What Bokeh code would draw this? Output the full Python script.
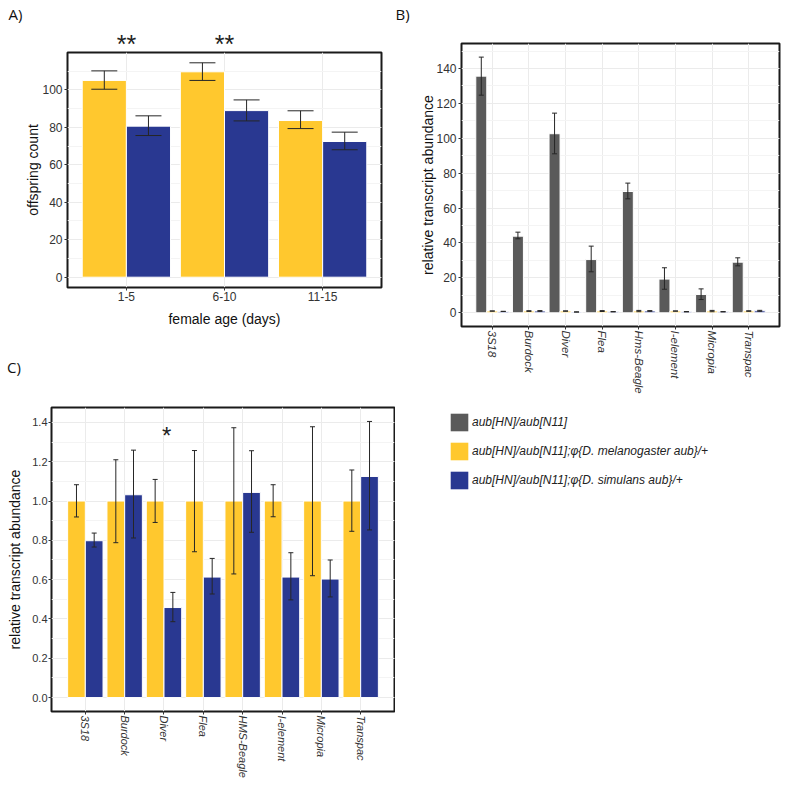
import numpy as np
from bokeh.plotting import figure
from bokeh.models import (Range1d, FixedTicker, SingleIntervalTicker, Whisker, TeeHead,
                          ColumnDataSource, Label, Legend, LegendItem, PrintfTickFormatter)
from bokeh.layouts import row, column
from bokeh.embed import file_html
from bokeh.resources import INLINE

FONT = "Liberation Sans"
LETTER_FONT = "Open Sans"
GREY = "#5a5a5a"
YELLOW = "#ffc82e"
BLUE = "#293891"
GRID = "#ebebeb"
MINOR = "#f4f4f4"
ERR = "#262626"

# ---------------- Panel A data ----------------
ages = ["1-5", "6-10", "11-15"]
a_mel = [105.0, 109.6, 83.6]
a_mel_lo = [100.3, 105.0, 79.3]
a_mel_hi = [110.1, 114.4, 88.8]
a_sim = [80.6, 88.9, 72.4]
a_sim_lo = [75.6, 83.4, 68.0]
a_sim_hi = [86.1, 94.6, 77.4]
a_sig = ["**", "**", ""]

# ---------------- Panel B data ----------------
b_te = ["3S18", "Burdock", "Diver", "Flea", "Hms-Beagle", "I-element", "Micropia", "Transpac"]
b_mut = [135.6, 43.9, 102.6, 30.5, 69.5, 19.3, 10.5, 29.0]
b_mut_lo = [124.7, 42.4, 91.1, 23.5, 65.3, 13.5, 7.6, 26.9]
b_mut_hi = [146.5, 46.2, 114.4, 38.2, 74.3, 25.8, 13.7, 31.5]
b_mel = [1.0, 1.0, 1.0, 1.0, 1.0, 1.0, 1.0, 1.0]
b_mel_lo = [0.92, 0.79, 0.89, 0.74, 0.63, 0.92, 0.62, 0.85]
b_mel_hi = [1.08, 1.21, 1.11, 1.26, 1.37, 1.08, 1.38, 1.16]
b_sim = [0.80, 1.03, 0.46, 0.61, 1.04, 0.61, 0.60, 1.13]
b_sim_lo = [0.77, 0.81, 0.39, 0.53, 0.84, 0.50, 0.51, 0.85]
b_sim_hi = [0.84, 1.26, 0.54, 0.71, 1.26, 0.74, 0.70, 1.41]

# ---------------- Panel C data ----------------
c_te = ["3S18", "Burdock", "Diver", "Flea", "HMS-Beagle", "I-element", "Micropia", "Transpac"]
c_mel = [1.0, 1.0, 1.0, 1.0, 1.0, 1.0, 1.0, 1.0]
c_mel_lo = [0.919, 0.788, 0.891, 0.742, 0.629, 0.920, 0.620, 0.846]
c_mel_hi = [1.083, 1.210, 1.110, 1.257, 1.373, 1.083, 1.378, 1.158]
c_sim = [0.798, 1.032, 0.458, 0.613, 1.044, 0.613, 0.603, 1.125]
c_sim_lo = [0.766, 0.812, 0.386, 0.527, 0.841, 0.497, 0.512, 0.853]
c_sim_hi = [0.837, 1.259, 0.535, 0.708, 1.256, 0.737, 0.700, 1.405]
c_sig = ["", "", "*", "", "", "", "", ""]

legend_labels = ["aub[HN]/aub[N11]",
                 "aub[HN]/aub[N11];\u03c6{D. melanogaster aub}/+",
                 "aub[HN]/aub[N11];\u03c6{D. simulans aub}/+"]

GEOM = {}


def make_fig(key, xr, yr, fw, fh, left, right, top, bottom, **kw):
    p = figure(frame_width=fw, frame_height=fh,
               min_border_left=left, min_border_right=right,
               min_border_top=top, min_border_bottom=bottom,
               x_range=Range1d(*xr), y_range=Range1d(*yr),
               frame_align=False,
               output_backend="svg", toolbar_location=None, **kw)
    p.outline_line_color = "#1a1a1a"
    p.outline_line_width = 2
    p.background_fill_color = "white"
    p.border_fill_color = "white"
    GEOM[key] = (left, fw, xr)
    return p


def header(key, width, height):
    """Blank strip above a panel whose x scale matches the panel's x scale."""
    fl, fw, xr = GEOM[key]
    k = (xr[1] - xr[0]) / fw
    h = figure(frame_width=width, frame_height=height, min_border=0,
               x_range=Range1d(xr[0] - fl * k, xr[0] + (width - fl) * k),
               y_range=Range1d(0, height), frame_align=False,
               x_axis_location=None, y_axis_location=None,
               output_backend="svg", toolbar_location=None)
    h.grid.visible = False
    h.outline_line_color = None
    h.border_fill_color = "white"
    h.background_fill_color = "white"
    return h


def px_x(key, px):
    fl, fw, xr = GEOM[key]
    return xr[0] + (px - fl) * (xr[1] - xr[0]) / fw


def style(p, cats, yinterval, ytick_size, xtick_size, x_italic, x_vertical,
          ylabel, xlabel, ylab_standoff, xlab_standoff, yfmt=None):
    xt = FixedTicker(ticks=list(range(1, len(cats) + 1)))
    yt = SingleIntervalTicker(interval=yinterval, num_minor_ticks=2)
    p.xaxis.ticker = xt
    p.yaxis.ticker = yt
    p.xgrid.ticker = xt
    p.ygrid.ticker = yt
    p.xaxis.major_label_overrides = {i + 1: c for i, c in enumerate(cats)}
    if yfmt:
        p.yaxis.formatter = PrintfTickFormatter(format=yfmt)
    for ax in (p.xaxis[0], p.yaxis[0]):
        ax.axis_line_color = None
        ax.major_tick_line_color = "#333333"
        ax.major_tick_out = 3
        ax.major_tick_in = 0
        ax.minor_tick_line_color = None
        ax.major_label_text_font = FONT
        ax.major_label_text_color = "#333333"
        ax.major_label_standoff = 1
        ax.axis_label_text_font = FONT
        ax.axis_label_text_font_style = "normal"
        ax.axis_label_text_font_size = "14px"
        ax.axis_label_text_color = "#111111"
    p.yaxis.major_label_text_font_size = ytick_size
    p.xaxis.major_label_text_font_size = xtick_size
    if x_italic:
        p.xaxis.major_label_text_font_style = "italic"
    if x_vertical:
        p.xaxis.major_label_orientation = "vertical"
    p.yaxis.axis_label = ylabel
    p.yaxis.axis_label_standoff = ylab_standoff
    if xlabel:
        p.xaxis.axis_label = xlabel
        p.xaxis.axis_label_standoff = xlab_standoff
    p.xgrid.grid_line_color = GRID
    p.ygrid.grid_line_color = GRID
    p.ygrid.minor_grid_line_color = MINOR


def add_bars(p, x, top, width, color):
    src = ColumnDataSource(dict(x=x, top=top))
    return p.vbar(x="x", top="top", bottom=0, width=width, source=src,
                  fill_color=color, line_color="white", line_width=1)


def add_err(p, x, lo, hi, cap):
    src = ColumnDataSource(dict(x=x, lo=lo, hi=hi))
    w = Whisker(base="x", lower="lo", upper="hi", source=src, dimension="height",
                line_color=ERR, line_width=1, level="annotation",
                upper_head=TeeHead(size=cap, line_color=ERR, line_width=1),
                lower_head=TeeHead(size=cap, line_color=ERR, line_width=1))
    p.add_layout(w)


def letter(h, key, text, px, baseline_py, height):
    h.add_layout(Label(x=px_x(key, px), y=height - baseline_py, text=text,
                       text_font=LETTER_FONT, text_font_size="15px", text_align="left",
                       text_baseline="alphabetic", text_color="#111111"))


# ================= Panel A =================
OVER = 12   # the strip above panel A is taller; panel A overlaps its empty lower part
pa = make_fig("a", (0.4, 3.6), (-5.5, 119.9), 314, 235, 67, 14, 2, 53,
              margin=(-OVER, 0, 0, 0))
xa = np.arange(1, len(ages) + 1)
add_bars(pa, xa - 0.225, a_mel, 0.45, YELLOW)
add_bars(pa, xa + 0.225, a_sim, 0.45, BLUE)
add_err(pa, xa - 0.225, a_mel_lo, a_mel_hi, 26)
add_err(pa, xa + 0.225, a_sim_lo, a_sim_hi, 26)
style(pa, ages, 20, "12px", "12px", False, False, "offspring count", "female age (days)", -2, 7)

HA = 50 + OVER
ha = header("a", 395, HA)
letter(ha, "a", "A)", 8, 13, HA)
for i, s in enumerate(a_sig):
    if s:
        ha.add_layout(Label(x=xa[i], y=HA - 43.2, text=s, text_font=FONT, text_font_size="25px",
                            text_align="center", text_baseline="middle", text_color="#222222"))

# ================= Panel B =================
pb = make_fig("b", (0.16, 8.84), (-7.85, 154.3), 318, 283, 66, 15, 2, 79)
xb = np.arange(1, len(b_te) + 1)
add_bars(pb, xb - 0.3, b_mut, 0.3, GREY)
add_bars(pb, xb, b_mel, 0.3, YELLOW)
add_bars(pb, xb + 0.3, b_sim, 0.3, BLUE)
add_err(pb, xb - 0.3, b_mut_lo, b_mut_hi, 5)
add_err(pb, xb, b_mel_lo, b_mel_hi, 5)
add_err(pb, xb + 0.3, b_sim_lo, b_sim_hi, 5)
style(pb, b_te, 20, "12px", "11.5px", True, True, "relative transcript abundance", None, -3, 0)

HB = 41
hb = header("b", 399, HB)
letter(hb, "b", "B)", 0, 13, HB)

# ================= Panel C =================
pc = make_fig("c", (0.14, 8.86), (-0.071, 1.476), 343, 304, 51, 1, 2, 76)
xc = np.arange(1, len(c_te) + 1)
add_bars(pc, xc - 0.225, c_mel, 0.45, YELLOW)
add_bars(pc, xc + 0.225, c_sim, 0.45, BLUE)
add_err(pc, xc - 0.225, c_mel_lo, c_mel_hi, 5)
add_err(pc, xc + 0.225, c_sim_lo, c_sim_hi, 5)
style(pc, c_te, 0.2, "11px", "11px", True, True, "relative transcript abundance", None, 6, 0,
      yfmt="%.1f")
pc.yaxis.major_label_standoff = 0
c_star_y = 1.476 - 28 * (1.476 + 0.071) / 304
for i, s in enumerate(c_sig):
    if s:
        pc.add_layout(Label(x=xc[i] + 0.07, y=c_star_y, text=s, text_font=FONT,
                            text_font_size="24px", text_align="center",
                            text_baseline="alphabetic", text_color="#222222"))

HC = 65
hc = header("c", 395, HC)
letter(hc, "c", "C)", 6.5, 26, HC)

# ================= Legend =================
pl = figure(frame_width=399, frame_height=100, min_border=0,
            x_range=Range1d(0, 1), y_range=Range1d(0, 1), frame_align=False,
            x_axis_location=None, y_axis_location=None,
            output_backend="svg", toolbar_location=None)
pl.grid.visible = False
pl.outline_line_color = None
pl.border_fill_color = "white"
items = []
for lab, col, xs, vals in zip(legend_labels, [GREY, YELLOW, BLUE],
                              [xb - 0.3, xb, xb + 0.3], [b_mut, b_mel, b_sim]):
    src = ColumnDataSource(dict(x=xs, top=vals))
    r = pl.vbar(x="x", top="top", width=0.3, source=src, fill_color=col, line_color=None,
                visible=False)
    items.append(LegendItem(label=lab, renderers=[r]))
leg = Legend(items=items, location=(53, 14), padding=0, margin=0,
             glyph_width=22, glyph_height=22, label_height=22, spacing=7, label_standoff=2,
             label_text_font=FONT, label_text_font_size="12px", label_text_font_style="italic",
             label_text_color="#222222", border_line_color=None, background_fill_alpha=0,
             inactive_fill_alpha=0)
pl.add_layout(leg)

layout = row(column(ha, pa, hc, pc), column(hb, pb, pl))
open("out.html", "w").write(file_html(layout, INLINE))
